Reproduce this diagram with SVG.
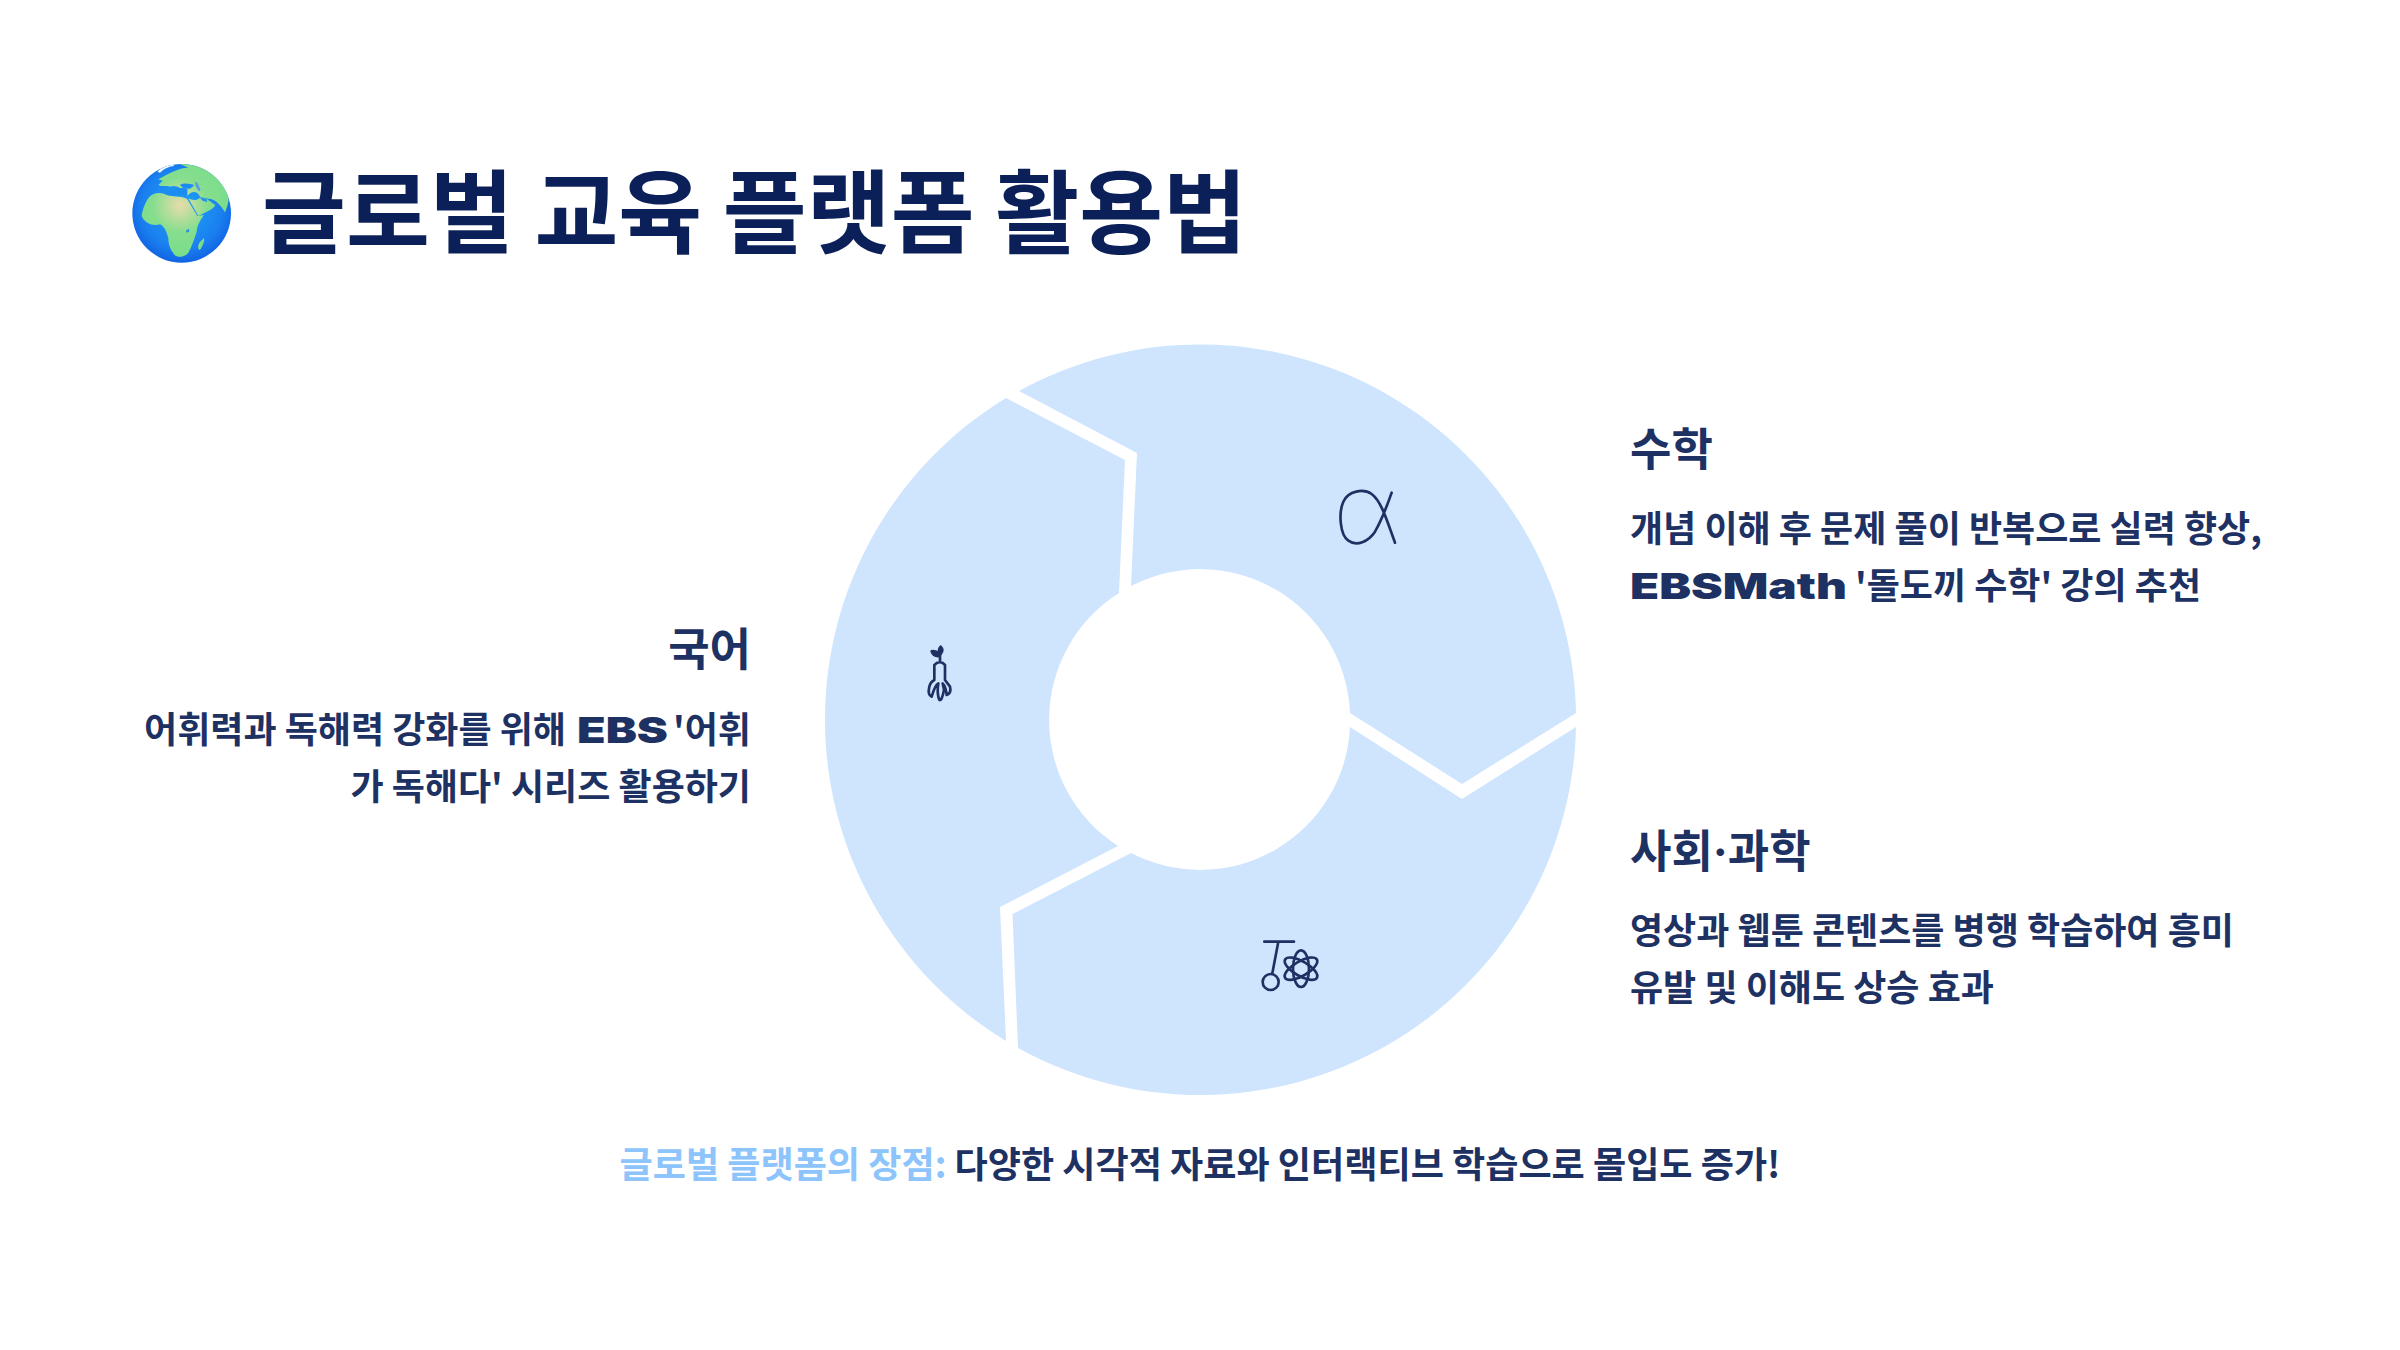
<svg xmlns="http://www.w3.org/2000/svg" width="2400" height="1350" viewBox="0 0 2400 1350">
<style>
text{font-family:"Noto Sans CJK KR","Noto Sans",sans-serif;fill:#1e3163}
.t{font-size:91.200px;font-weight:700;fill:#0b1f58}
.h{font-size:45px;font-weight:700}
.b{font-size:36px;font-weight:700}
.w{font-family:"Inter","Noto Sans CJK KR",sans-serif;font-size:36px;font-weight:900}
.f{font-size:36.100px;font-weight:700}
.s{fill:#cfe5fe}
.i{fill:none;stroke:#1e3163;stroke-width:8;stroke-linecap:round;stroke-linejoin:round}
</style>
<defs>
<radialGradient id="sea" cx="0.5" cy="0.45" r="0.58"><stop offset="0" stop-color="#1ea4f5"/><stop offset="0.7" stop-color="#1a80f0"/><stop offset="1" stop-color="#0f5fe0"/></radialGradient>
<radialGradient id="land" gradientUnits="userSpaceOnUse" cx="240" cy="225" r="150"><stop offset="0" stop-color="#e8dcaa"/><stop offset="0.55" stop-color="#85de8e"/><stop offset="1" stop-color="#7bdd8a"/></radialGradient>
<clipPath id="disc"><circle cx="245" cy="250" r="148"/></clipPath>
</defs>
<g id="globe" transform="translate(100 130) scale(.33333)">
<circle cx="245" cy="250" r="148" fill="url(#sea)"/>
<g clip-path="url(#disc)">
<path fill="url(#land)" d="M125 258C128 235 140 205 155 195C170 186 190 188 205 196C225 202 250 198 262 208L292 258L312 255C300 272 292 285 290 305C284 325 275 350 265 368C255 382 232 384 224 375C212 360 205 345 205 325C200 305 192 288 180 283C160 288 135 282 125 258Z"/>
<path fill="url(#land)" d="M262 198C270 185 290 178 300 200L325 206C345 205 362 225 375 247C385 225 392 195 380 165C350 125 300 100 240 102L265 113C240 112 205 130 175 148L188 152L175 165C185 172 200 165 210 170C225 165 245 170 262 198Z"/>
<path fill="url(#land)" d="M265 205L295 258C320 245 340 238 346 225C330 215 315 200 300 203C290 212 278 212 265 205Z"/>
<path fill="#1a8cf2" d="M165 185C178 172 195 175 205 185C225 178 240 168 262 178L262 198C240 192 225 200 200 195C190 188 175 185 165 185Z"/>
<path fill="#5b9ae8" d="M284 155L292 158L302 180L296 184L288 170Z"/>
<path fill="#1a8cf2" d="M240 165C250 158 270 160 283 166L270 176L252 176Z"/>
<path fill="#1a8cf2" d="M300 203L318 206L322 216L308 212Z"/>
<path fill="#f4f9ff" d="M172 125C182 114 200 105 220 104L222 108C205 110 190 118 180 128Z"/>
<path fill="url(#land)" d="M312 323C315 335 305 352 300 360C292 358 294 345 298 338C302 332 308 330 312 323Z"/>
<path fill="#1a8cf2" d="M258 302L266 296L268 304L260 308Z"/>
</g>
</g>
<text id="title" class="t" x="262" y="246">글로벌 교육 플랫폼 활용법</text>
<g id="cycle">
<path id="seg-math" class="s" d="M1019 391A376 376 0 0 1 1576 713L1462 784L1350 713A150 150 0 0 0 1131 586L1137 453Z"/>
<path id="seg-social" class="s" d="M1576 727A376 376 0 0 1 1018 1048L1012.500 914L1131 853A150 150 0 0 0 1350 727L1462 799Z"/>
<path id="seg-korean" class="s" d="M1006 1041A376 376 0 0 1 1006 398L1125 460L1119 593A150 150 0 0 0 1118 846L1000 907Z"/>
</g>
<g id="icon-alpha" transform="translate(1300 470) scale(.33333)"><path class="i" d="M275 68C262 105 245 150 225 185C205 215 170 230 145 212C120 195 115 130 130 95C145 62 190 55 215 72C245 95 260 150 285 218"/></g>
<g id="icon-root" transform="translate(900 630) scale(.33333)"><path class="i" d="M103 150V105Q120 88 135 105V150L150 170Q155 190 140 195Q138 170 128 160L132 180Q125 215 118 210Q110 190 115 160Q105 165 95 200Q82 195 88 170Q92 155 103 150ZM120 95V70"/><path class="i" style="fill:#1e3163" d="M120 72Q105 60 95 64Q100 80 118 78ZM122 50Q132 60 122 72Q112 62 122 50Z"/></g>
<g id="icon-physics" transform="translate(1240 920) scale(.33333)"><path class="i" d="M73 65H162M115 65L97 160"/><circle class="i" cx="92" cy="186" r="24"/><ellipse class="i" cx="183" cy="146" rx="24" ry="55"/><ellipse class="i" cx="183" cy="146" rx="55" ry="22" transform="rotate(30 183 146)"/><ellipse class="i" cx="183" cy="146" rx="55" ry="22" transform="rotate(-30 183 146)"/></g>
<g id="node-math">
<text class="h" x="1630" y="466">수학</text>
<text class="b" x="1630" y="542">개념 이해 후 문제 풀이 반복으로 실력 향상,</text>
<text class="w" x="1630" y="599" textLength="217" lengthAdjust="spacingAndGlyphs">EBSMath</text>
<text class="b" x="1855" y="599">'돌도끼 수학' 강의 추천</text>
</g>
<g id="node-social">
<text class="h" x="1630" y="868">사회<tspan style="font-family:Inter,sans-serif">·</tspan>과학</text>
<text class="b" x="1630" y="944">영상과 웹툰 콘텐츠를 병행 학습하여 흥미</text>
<text class="b" x="1630" y="1001">유발 및 이해도 상승 효과</text>
</g>
<g id="node-korean">
<text class="h" x="751" y="666" text-anchor="end">국어</text>
<text class="b" x="566" y="743" text-anchor="end">어휘력과 독해력 강화를 위해</text>
<text class="w" x="577" y="743" textLength="91" lengthAdjust="spacingAndGlyphs">EBS</text>
<text class="b" x="751" y="743" text-anchor="end">'어휘</text>
<text class="b" x="751" y="800" text-anchor="end">가 독해다' 시리즈 활용하기</text>
</g>
<text id="footer" class="f" x="1200" y="1178" text-anchor="middle"><tspan style="fill:#8cc4fb">글로벌 플랫폼의 장점:</tspan> 다양한 시각적 자료와 인터랙티브 학습으로 몰입도 증가!</text>
</svg>
